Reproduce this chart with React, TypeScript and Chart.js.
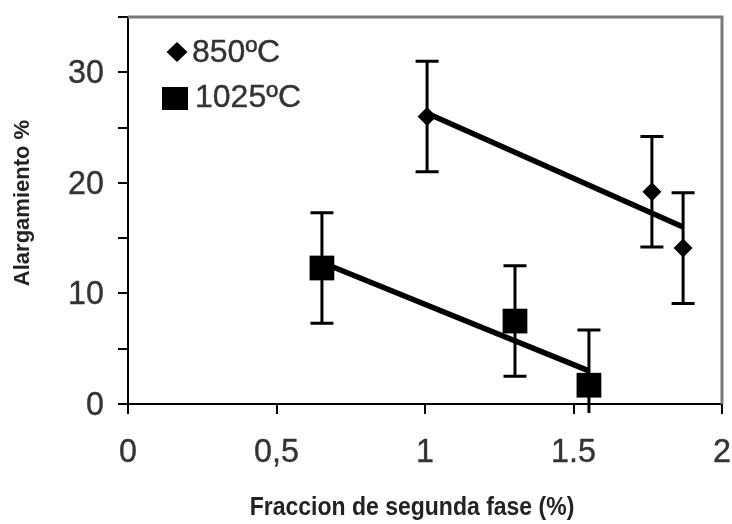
import React, { useEffect, useRef } from "react";
import { Chart, registerables } from "chart.js";

Chart.register(...registerables);

const seriesLabels = ["850ºC", "1025ºC"];
const x850 = [1.007, 1.764, 1.869];
const y850 = [26.0, 19.2, 14.1];
const err850 = [5, 5, 5];
const x1025 = [0.653, 1.303, 1.552];
const y1025 = [12.3, 7.5, 1.7];
const err1025 = [5, 5, 5];
const trend850X = [1.007, 1.869];
const trend850Y = [26.3, 16.0];
const trend1025X = [0.653, 1.552];
const trend1025Y = [12.8, 3.0];
const xTickValues = [0, 0.5, 1, 1.5, 2];
const xTickLabels = ["0", "0,5", "1", "1.5", "2"];
const yTickValues = [0, 10, 20, 30];
const yTickLabels = ["0", "10", "20", "30"];
const xTitle = "Fraccion de segunda fase (%)";
const yTitle = "Alargamiento %";

const toPts = (xs: number[], ys: number[]) => xs.map((x, i) => ({ x, y: ys[i] }));

const SANS = "'Liberation Sans', Arial, sans-serif";

function txt(
  ctx: CanvasRenderingContext2D,
  s: string,
  x: number,
  y: number,
  font: string,
  align: CanvasTextAlign,
  color: string,
  sx: number,
  stroke = 0
) {
  ctx.save();
  ctx.translate(x, y);
  ctx.scale(sx, 1);
  ctx.font = font;
  ctx.fillStyle = color;
  ctx.textAlign = align;
  ctx.textBaseline = "alphabetic";
  ctx.fillText(s, 0, 0);
  if (stroke > 0) {
    ctx.strokeStyle = color;
    ctx.lineWidth = stroke;
    ctx.strokeText(s, 0, 0);
  }
  ctx.restore();
}

const decorPlugin = {
  id: "decor",
  afterDatasetsDraw(chart: any) {
    const ctx = chart.ctx;
    const xs = chart.scales.x;
    const ys = chart.scales.y;
    const area = chart.chartArea;
    ctx.save();
    const bars: [number[], number[], number[]][] = [
      [x850, y850, err850],
      [x1025, y1025, err1025],
    ];
    ctx.strokeStyle = "#000";
    ctx.lineWidth = 3;
    ctx.lineCap = "butt";
    bars.forEach(([xa, ya, ea]) => {
      xa.forEach((xv, i) => {
        const px = xs.getPixelForValue(xv);
        const top = ys.getPixelForValue(ya[i] + ea[i]);
        let bot = ys.getPixelForValue(ya[i] - ea[i]);
        const clipped = bot > area.bottom;
        if (clipped) bot = area.bottom + 9;
        ctx.beginPath();
        ctx.moveTo(px, top);
        ctx.lineTo(px, bot);
        ctx.moveTo(px - 11.5, top);
        ctx.lineTo(px + 11.5, top);
        if (!clipped) {
          ctx.moveTo(px - 11.5, bot);
          ctx.lineTo(px + 11.5, bot);
        }
        ctx.stroke();
      });
    });
    ctx.restore();
  },
  afterDraw(chart: any) {
    const ctx = chart.ctx;
    const area = chart.chartArea;
    const xs = chart.scales.x;
    const ys = chart.scales.y;
    ctx.save();
    // top and right frame
    ctx.strokeStyle = "#7a7a7a";
    ctx.lineWidth = 3;
    ctx.beginPath();
    ctx.moveTo(area.left, area.top);
    ctx.lineTo(area.right, area.top);
    ctx.lineTo(area.right, area.bottom);
    ctx.stroke();
    ctx.restore();

    // tick labels
    const tickFont = `34px ${SANS}`;
    xTickValues.forEach((v, i) => {
      txt(ctx, xTickLabels[i], xs.getPixelForValue(v), area.bottom + 58, tickFont, "center", "#333", 0.95, 0.4);
    });
    yTickValues.forEach((v, i) => {
      txt(ctx, yTickLabels[i], area.left - 24, ys.getPixelForValue(v) + 11, tickFont, "right", "#333", 0.95, 0.4);
    });

    // legend
    ctx.save();
    ctx.fillStyle = "#000";
    const dx = area.left + 49;
    const dy = area.top + 35;
    ctx.beginPath();
    ctx.moveTo(dx, dy - 10);
    ctx.lineTo(dx + 10.5, dy);
    ctx.lineTo(dx, dy + 10);
    ctx.lineTo(dx - 10.5, dy);
    ctx.closePath();
    ctx.fill();
    ctx.fillRect(area.left + 34, area.top + 70, 26, 23);
    ctx.restore();
    const legFont = `32px ${SANS}`;
    txt(ctx, seriesLabels[0], area.left + 64, area.top + 45, legFont, "left", "#333", 1, 0.4);
    txt(ctx, seriesLabels[1], area.left + 67, area.top + 90, legFont, "left", "#333", 1, 0.4);

    // x axis title
    txt(ctx, xTitle, (area.left + area.right) / 2 - 13, 515, `bold 25px ${SANS}`, "center", "#222", 0.92);
    // y axis title
    ctx.save();
    ctx.translate(29, 203);
    ctx.rotate(-Math.PI / 2);
    ctx.font = `bold 22px ${SANS}`;
    ctx.fillStyle = "#222";
    ctx.textAlign = "center";
    ctx.textBaseline = "alphabetic";
    ctx.fillText(yTitle, 0, 0);
    ctx.restore();
  },
};

const noPad = (s: any) => {
  s.paddingTop = 0;
  s.paddingBottom = 0;
  s.paddingLeft = 0;
  s.paddingRight = 0;
};

export default function App() {
  const ref = useRef<HTMLCanvasElement>(null);
  useEffect(() => {
    document.body.style.margin = "0";
    const canvas = ref.current;
    if (!canvas) return;
    const chart = new Chart(canvas, {
      type: "scatter",
      data: {
        datasets: [
          {
            label: seriesLabels[0],
            data: toPts(x850, y850),
            pointStyle: "rectRot",
            pointRadius: 9.5,
            backgroundColor: "#000",
            borderColor: "#000",
            borderWidth: 0,
            order: 1,
          },
          {
            label: seriesLabels[1],
            data: toPts(x1025, y1025),
            pointStyle: "rect",
            pointRadius: 17.5,
            backgroundColor: "#000",
            borderColor: "#000",
            borderWidth: 0,
            order: 1,
          },
          {
            label: "trend850",
            type: "line",
            data: toPts(trend850X, trend850Y),
            borderColor: "#000",
            borderWidth: 5.5,
            pointRadius: 0,
            showLine: true,
            fill: false,
            order: 2,
          },
          {
            label: "trend1025",
            type: "line",
            data: toPts(trend1025X, trend1025Y),
            borderColor: "#000",
            borderWidth: 5.5,
            pointRadius: 0,
            showLine: true,
            fill: false,
            order: 2,
          },
        ] as any,
      },
      options: {
        animation: false,
        responsive: false,
        devicePixelRatio: 1,
        layout: { autoPadding: false, padding: { left: 0, top: 17, right: 10, bottom: 0 } },
        plugins: {
          legend: { display: false },
          tooltip: { enabled: false },
          title: { display: false },
        },
        scales: {
          x: {
            type: "linear",
            min: 0,
            max: 2,
            ticks: {
              stepSize: 0.5,
              font: { size: 10 },
              maxRotation: 0,
              callback: () => "",
            },
            grid: {
              drawOnChartArea: false,
              drawTicks: true,
              tickLength: 10,
              color: "#000",
              lineWidth: 2,
            },
            border: { display: true, color: "#000", width: 2 },
            afterFit: (s: any) => {
              s.height = 120;
              noPad(s);
            },
          },
          y: {
            type: "linear",
            min: 0,
            max: 35,
            ticks: {
              stepSize: 5,
              font: { size: 10 },
              callback: () => "",
            },
            grid: {
              drawOnChartArea: false,
              drawTicks: true,
              tickLength: 10,
              color: "#000",
              lineWidth: 2,
            },
            border: { display: true, color: "#000", width: 2 },
            afterFit: (s: any) => {
              s.width = 128;
              noPad(s);
            },
          },
        },
      } as any,
      plugins: [decorPlugin],
    });
    return () => chart.destroy();
  }, []);
  return (
    <div style={{ position: "fixed", left: 0, top: 0, width: 732, height: 524, background: "#fff" }}>
      <canvas ref={ref} width={732} height={524} />
    </div>
  );
}
